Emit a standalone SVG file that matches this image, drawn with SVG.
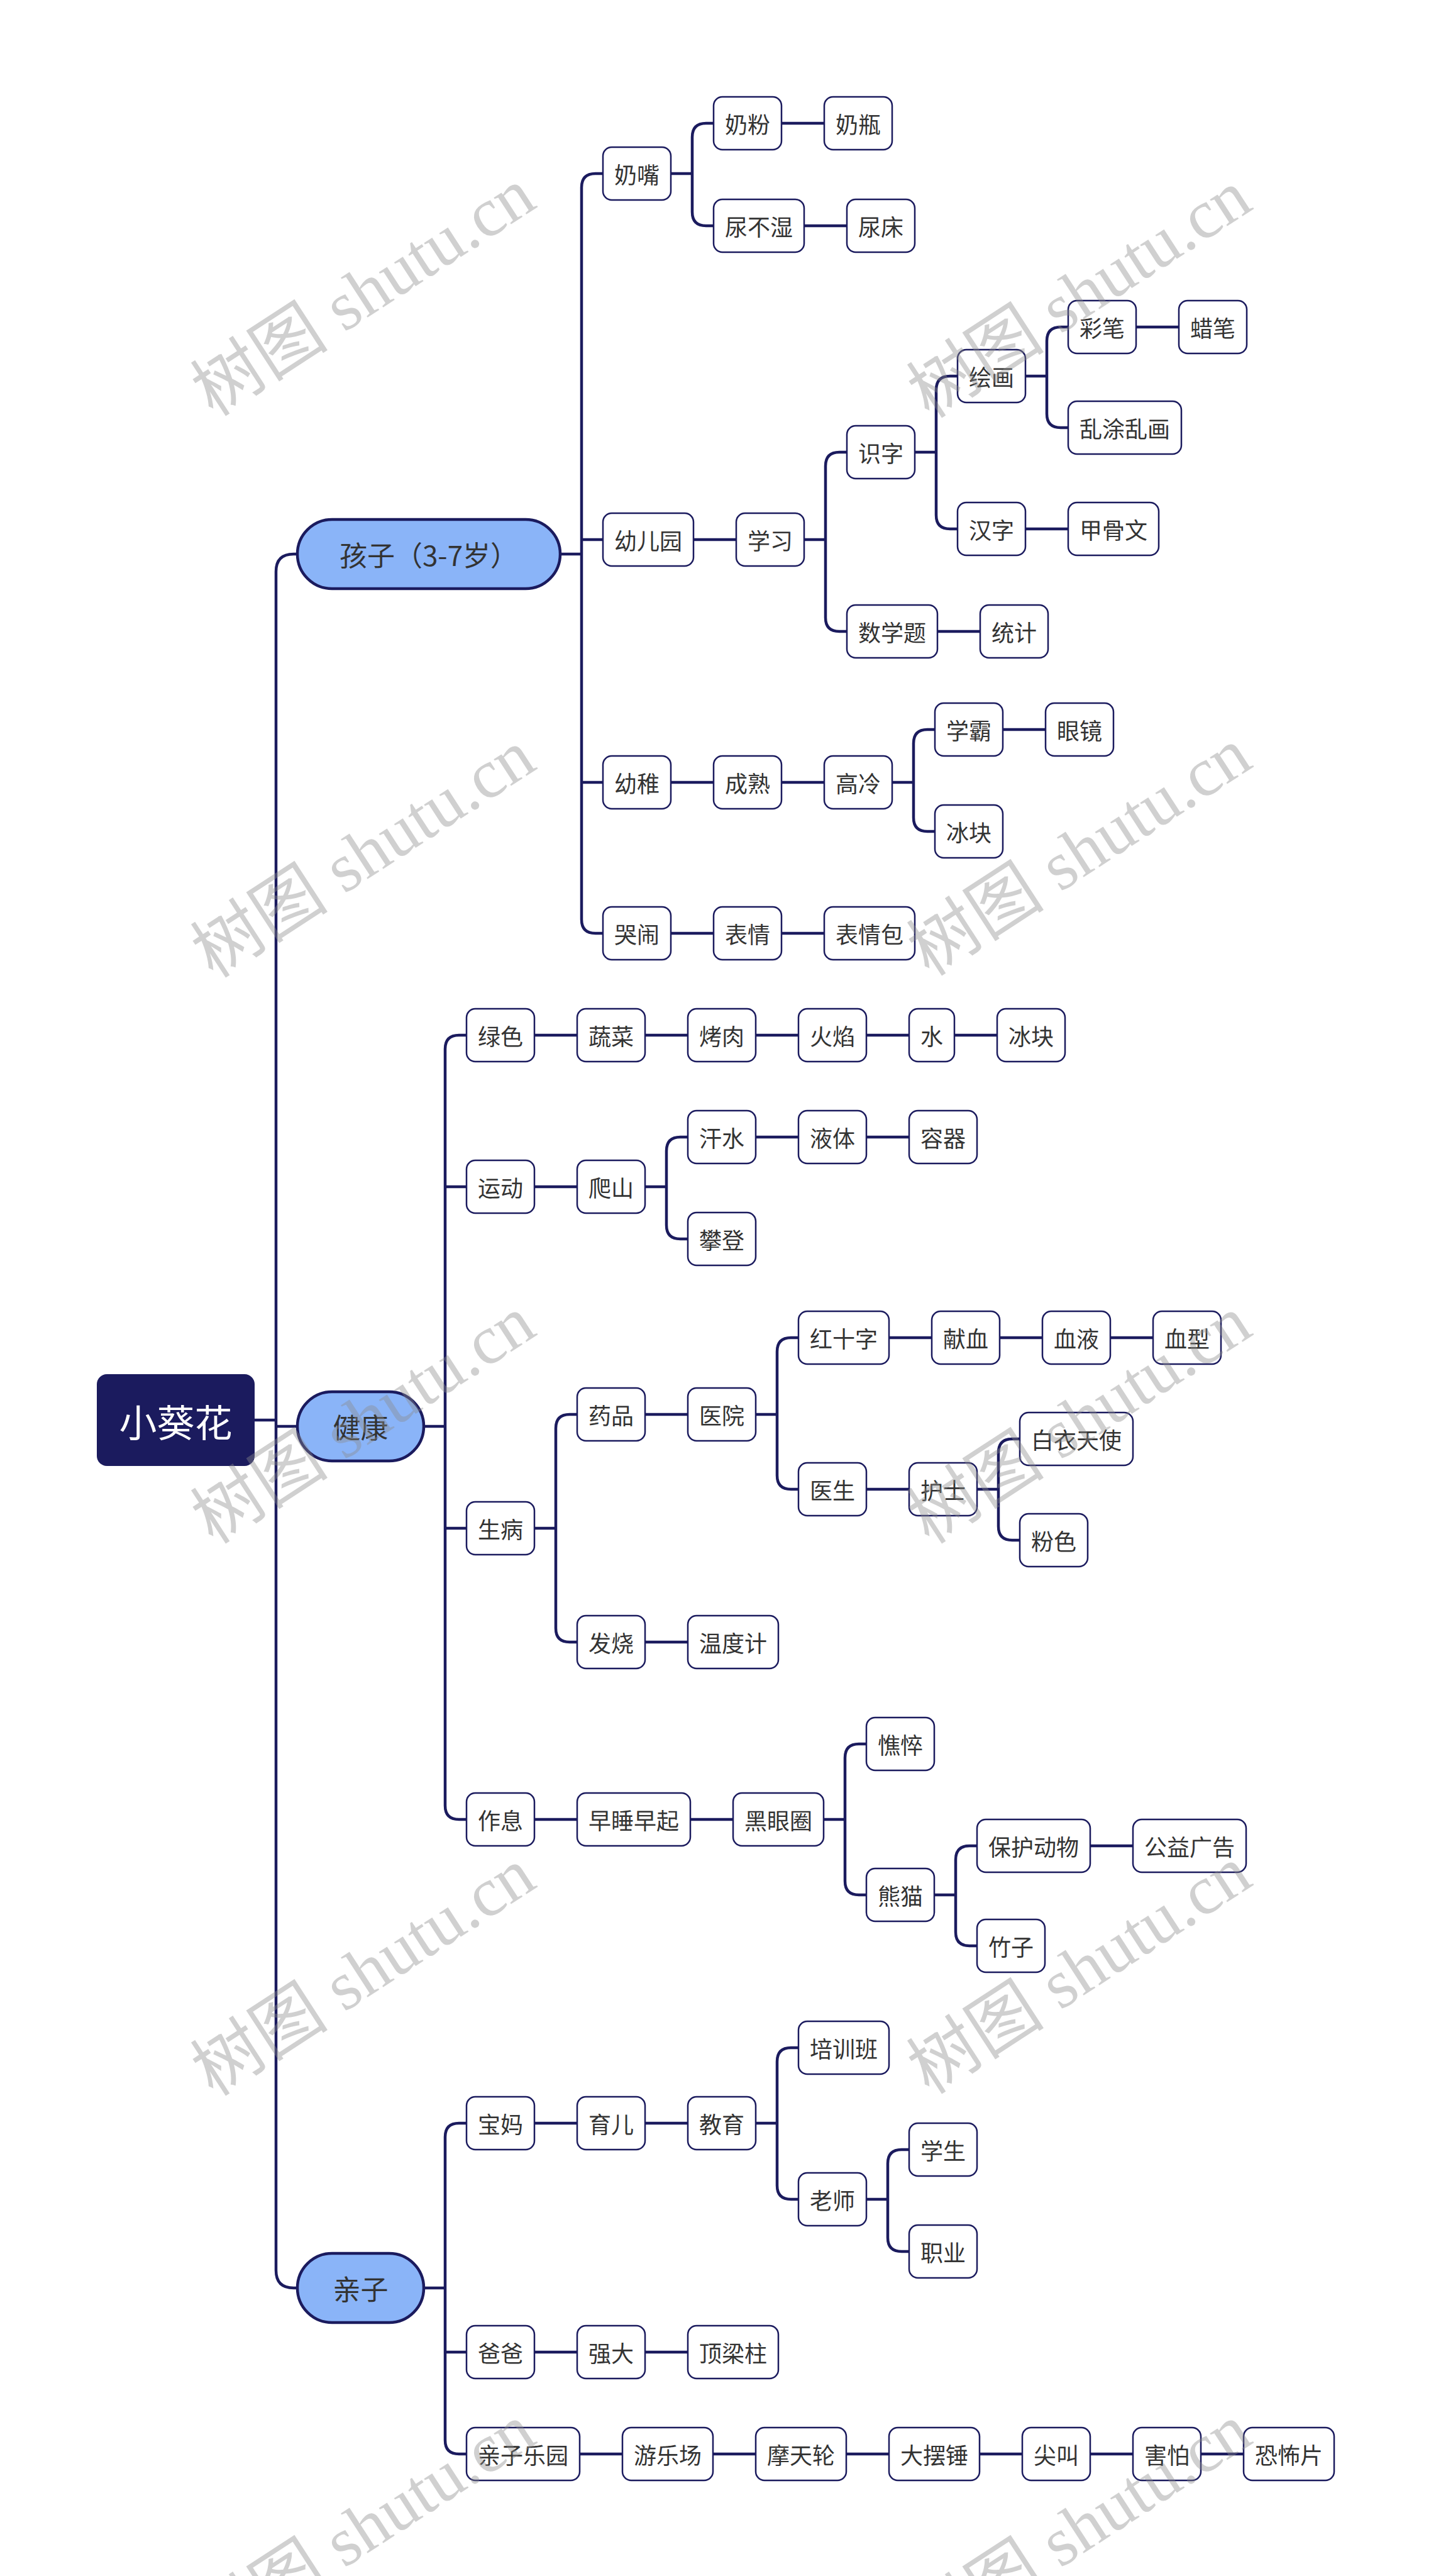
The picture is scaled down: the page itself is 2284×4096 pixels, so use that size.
<svg xmlns="http://www.w3.org/2000/svg" width="2284" height="4096" viewBox="0 0 2284 4096">
<style>
.n rect{fill:#ffffff;stroke:#1b1b5e;stroke-width:2.5}
.n text{font-family:"Noto Sans CJK SC","Noto Sans",sans-serif;font-size:36px;fill:#333333;text-anchor:middle;dominant-baseline:central}
.p rect{fill:#8ab4f8;stroke:#1b1b5e;stroke-width:4.5}
.p text{font-family:"Noto Sans CJK SC","Noto Sans",sans-serif;font-size:44px;fill:#333333;text-anchor:middle;dominant-baseline:central}
.r rect{fill:#1b1b5e;stroke:none}
.r text{font-family:"Noto Sans CJK SC","Noto Sans",sans-serif;font-size:60px;fill:#ffffff;text-anchor:middle;dominant-baseline:central}
.c path{fill:none;stroke:#1b1b5e;stroke-width:4.5}
.wm{font-family:"Liberation Serif","Noto Sans CJK SC",serif;font-size:110px;fill:#8c8c8c;opacity:0.4;text-anchor:middle;dominant-baseline:central}
</style>
<rect width="2284" height="4096" fill="#ffffff"/>
<g id="connectors" class="c">
<path d="M405 2258 H439"/>
<path d="M439 2268 H473"/>
<path d="M473 881 H467 Q439 881 439 909 V3610 Q439 3638 467 3638 H473"/>
<path d="M891 881 H925"/>
<path d="M959 276 H947 Q925 276 925 298 V1462 Q925 1484 947 1484 H959"/>
<path d="M925 858 H959"/>
<path d="M925 1244 H959"/>
<path d="M1067 276 H1101"/>
<path d="M1135 196 H1123 Q1101 196 1101 218 V337 Q1101 359 1123 359 H1135"/>
<path d="M1243 196 H1311"/>
<path d="M1279 359 H1347"/>
<path d="M1103 858 H1171"/>
<path d="M1279 858 H1313"/>
<path d="M1347 719 H1335 Q1313 719 1313 741 V982 Q1313 1004 1335 1004 H1347"/>
<path d="M1455 719 H1489"/>
<path d="M1523 598 H1511 Q1489 598 1489 620 V819 Q1489 841 1511 841 H1523"/>
<path d="M1631 598 H1665"/>
<path d="M1699 520 H1687 Q1665 520 1665 542 V658 Q1665 680 1687 680 H1699"/>
<path d="M1807 520 H1875"/>
<path d="M1631 841 H1699"/>
<path d="M1491 1004 H1559"/>
<path d="M1067 1244 H1135"/>
<path d="M1243 1244 H1311"/>
<path d="M1419 1244 H1453"/>
<path d="M1487 1160 H1475 Q1453 1160 1453 1182 V1300 Q1453 1322 1475 1322 H1487"/>
<path d="M1595 1160 H1663"/>
<path d="M1067 1484 H1135"/>
<path d="M1243 1484 H1311"/>
<path d="M674 2268 H708"/>
<path d="M742 1646 H730 Q708 1646 708 1668 V2871 Q708 2893 730 2893 H742"/>
<path d="M708 1887 H742"/>
<path d="M708 2430 H742"/>
<path d="M850 1646 H918"/>
<path d="M1026 1646 H1094"/>
<path d="M1202 1646 H1270"/>
<path d="M1378 1646 H1446"/>
<path d="M1518 1646 H1586"/>
<path d="M850 1887 H918"/>
<path d="M1026 1887 H1060"/>
<path d="M1094 1808 H1082 Q1060 1808 1060 1830 V1948 Q1060 1970 1082 1970 H1094"/>
<path d="M1202 1808 H1270"/>
<path d="M1378 1808 H1446"/>
<path d="M850 2430 H884"/>
<path d="M918 2249 H906 Q884 2249 884 2271 V2589 Q884 2611 906 2611 H918"/>
<path d="M1026 2249 H1094"/>
<path d="M1202 2249 H1236"/>
<path d="M1270 2127 H1258 Q1236 2127 1236 2149 V2346 Q1236 2368 1258 2368 H1270"/>
<path d="M1414 2127 H1482"/>
<path d="M1590 2127 H1658"/>
<path d="M1766 2127 H1834"/>
<path d="M1378 2368 H1446"/>
<path d="M1554 2368 H1588"/>
<path d="M1622 2288 H1610 Q1588 2288 1588 2310 V2427 Q1588 2449 1610 2449 H1622"/>
<path d="M1026 2611 H1094"/>
<path d="M850 2893 H918"/>
<path d="M1098 2893 H1166"/>
<path d="M1310 2893 H1344"/>
<path d="M1378 2773 H1366 Q1344 2773 1344 2795 V2991 Q1344 3013 1366 3013 H1378"/>
<path d="M1486 3013 H1520"/>
<path d="M1554 2935 H1542 Q1520 2935 1520 2957 V3072 Q1520 3094 1542 3094 H1554"/>
<path d="M1734 2935 H1802"/>
<path d="M674 3638 H708"/>
<path d="M742 3376 H730 Q708 3376 708 3398 V3880 Q708 3902 730 3902 H742"/>
<path d="M708 3740 H742"/>
<path d="M850 3376 H918"/>
<path d="M1026 3376 H1094"/>
<path d="M1202 3376 H1236"/>
<path d="M1270 3256 H1258 Q1236 3256 1236 3278 V3475 Q1236 3497 1258 3497 H1270"/>
<path d="M1378 3497 H1412"/>
<path d="M1446 3418 H1434 Q1412 3418 1412 3440 V3558 Q1412 3580 1434 3580 H1446"/>
<path d="M850 3740 H918"/>
<path d="M1026 3740 H1094"/>
<path d="M922 3902 H990"/>
<path d="M1134 3902 H1202"/>
<path d="M1346 3902 H1414"/>
<path d="M1558 3902 H1626"/>
<path d="M1734 3902 H1802"/>
<path d="M1910 3902 H1978"/>
</g>
<g id="root" class="r"><rect x="154" y="2185" width="251" height="146" rx="16"/><text x="279.5" y="2258">小葵花</text></g>
<g id="n-haizi" class="p"><rect x="473" y="826" width="418" height="110" rx="55"/><text x="682" y="881">孩子（3-7岁）</text></g>
<g id="n-jiankang" class="p"><rect x="473" y="2213" width="201" height="110" rx="55"/><text x="573.5" y="2268">健康</text></g>
<g id="n-qinzi" class="p"><rect x="473" y="3583" width="201" height="110" rx="55"/><text x="573.5" y="3638">亲子</text></g>
<g id="n-naizui" class="n"><rect x="959" y="234" width="108" height="84" rx="14"/><text x="1013" y="276">奶嘴</text></g>
<g id="n-naifen" class="n"><rect x="1135" y="154" width="108" height="84" rx="14"/><text x="1189" y="196">奶粉</text></g>
<g id="n-naiping" class="n"><rect x="1311" y="154" width="108" height="84" rx="14"/><text x="1365" y="196">奶瓶</text></g>
<g id="n-niaobushi" class="n"><rect x="1135" y="317" width="144" height="84" rx="14"/><text x="1207" y="359">尿不湿</text></g>
<g id="n-niaochuang" class="n"><rect x="1347" y="317" width="108" height="84" rx="14"/><text x="1401" y="359">尿床</text></g>
<g id="n-youeryuan" class="n"><rect x="959" y="816" width="144" height="84" rx="14"/><text x="1031" y="858">幼儿园</text></g>
<g id="n-xuexi" class="n"><rect x="1171" y="816" width="108" height="84" rx="14"/><text x="1225" y="858">学习</text></g>
<g id="n-shizi" class="n"><rect x="1347" y="677" width="108" height="84" rx="14"/><text x="1401" y="719">识字</text></g>
<g id="n-huihua" class="n"><rect x="1523" y="556" width="108" height="84" rx="14"/><text x="1577" y="598">绘画</text></g>
<g id="n-caibi" class="n"><rect x="1699" y="478" width="108" height="84" rx="14"/><text x="1753" y="520">彩笔</text></g>
<g id="n-labi" class="n"><rect x="1875" y="478" width="108" height="84" rx="14"/><text x="1929" y="520">蜡笔</text></g>
<g id="n-luantu" class="n"><rect x="1699" y="638" width="180" height="84" rx="14"/><text x="1789" y="680">乱涂乱画</text></g>
<g id="n-hanzi" class="n"><rect x="1523" y="799" width="108" height="84" rx="14"/><text x="1577" y="841">汉字</text></g>
<g id="n-jiaguwen" class="n"><rect x="1699" y="799" width="144" height="84" rx="14"/><text x="1771" y="841">甲骨文</text></g>
<g id="n-shuxueti" class="n"><rect x="1347" y="962" width="144" height="84" rx="14"/><text x="1419" y="1004">数学题</text></g>
<g id="n-tongji" class="n"><rect x="1559" y="962" width="108" height="84" rx="14"/><text x="1613" y="1004">统计</text></g>
<g id="n-youzhi" class="n"><rect x="959" y="1202" width="108" height="84" rx="14"/><text x="1013" y="1244">幼稚</text></g>
<g id="n-chengshu" class="n"><rect x="1135" y="1202" width="108" height="84" rx="14"/><text x="1189" y="1244">成熟</text></g>
<g id="n-gaoleng" class="n"><rect x="1311" y="1202" width="108" height="84" rx="14"/><text x="1365" y="1244">高冷</text></g>
<g id="n-xueba" class="n"><rect x="1487" y="1118" width="108" height="84" rx="14"/><text x="1541" y="1160">学霸</text></g>
<g id="n-yanjing" class="n"><rect x="1663" y="1118" width="108" height="84" rx="14"/><text x="1717" y="1160">眼镜</text></g>
<g id="n-bingkuai1" class="n"><rect x="1487" y="1280" width="108" height="84" rx="14"/><text x="1541" y="1322">冰块</text></g>
<g id="n-kunao" class="n"><rect x="959" y="1442" width="108" height="84" rx="14"/><text x="1013" y="1484">哭闹</text></g>
<g id="n-biaoqing" class="n"><rect x="1135" y="1442" width="108" height="84" rx="14"/><text x="1189" y="1484">表情</text></g>
<g id="n-biaoqingbao" class="n"><rect x="1311" y="1442" width="144" height="84" rx="14"/><text x="1383" y="1484">表情包</text></g>
<g id="n-lvse" class="n"><rect x="742" y="1604" width="108" height="84" rx="14"/><text x="796" y="1646">绿色</text></g>
<g id="n-shucai" class="n"><rect x="918" y="1604" width="108" height="84" rx="14"/><text x="972" y="1646">蔬菜</text></g>
<g id="n-kaorou" class="n"><rect x="1094" y="1604" width="108" height="84" rx="14"/><text x="1148" y="1646">烤肉</text></g>
<g id="n-huoyan" class="n"><rect x="1270" y="1604" width="108" height="84" rx="14"/><text x="1324" y="1646">火焰</text></g>
<g id="n-shui" class="n"><rect x="1446" y="1604" width="72" height="84" rx="14"/><text x="1482" y="1646">水</text></g>
<g id="n-bingkuai2" class="n"><rect x="1586" y="1604" width="108" height="84" rx="14"/><text x="1640" y="1646">冰块</text></g>
<g id="n-yundong" class="n"><rect x="742" y="1845" width="108" height="84" rx="14"/><text x="796" y="1887">运动</text></g>
<g id="n-pashan" class="n"><rect x="918" y="1845" width="108" height="84" rx="14"/><text x="972" y="1887">爬山</text></g>
<g id="n-hanshui" class="n"><rect x="1094" y="1766" width="108" height="84" rx="14"/><text x="1148" y="1808">汗水</text></g>
<g id="n-yeti" class="n"><rect x="1270" y="1766" width="108" height="84" rx="14"/><text x="1324" y="1808">液体</text></g>
<g id="n-rongqi" class="n"><rect x="1446" y="1766" width="108" height="84" rx="14"/><text x="1500" y="1808">容器</text></g>
<g id="n-pandeng" class="n"><rect x="1094" y="1928" width="108" height="84" rx="14"/><text x="1148" y="1970">攀登</text></g>
<g id="n-shengbing" class="n"><rect x="742" y="2388" width="108" height="84" rx="14"/><text x="796" y="2430">生病</text></g>
<g id="n-yaopin" class="n"><rect x="918" y="2207" width="108" height="84" rx="14"/><text x="972" y="2249">药品</text></g>
<g id="n-yiyuan" class="n"><rect x="1094" y="2207" width="108" height="84" rx="14"/><text x="1148" y="2249">医院</text></g>
<g id="n-hongshizi" class="n"><rect x="1270" y="2085" width="144" height="84" rx="14"/><text x="1342" y="2127">红十字</text></g>
<g id="n-xianxue" class="n"><rect x="1482" y="2085" width="108" height="84" rx="14"/><text x="1536" y="2127">献血</text></g>
<g id="n-xueye" class="n"><rect x="1658" y="2085" width="108" height="84" rx="14"/><text x="1712" y="2127">血液</text></g>
<g id="n-xuexing" class="n"><rect x="1834" y="2085" width="108" height="84" rx="14"/><text x="1888" y="2127">血型</text></g>
<g id="n-yisheng" class="n"><rect x="1270" y="2326" width="108" height="84" rx="14"/><text x="1324" y="2368">医生</text></g>
<g id="n-hushi" class="n"><rect x="1446" y="2326" width="108" height="84" rx="14"/><text x="1500" y="2368">护士</text></g>
<g id="n-baiyi" class="n"><rect x="1622" y="2246" width="180" height="84" rx="14"/><text x="1712" y="2288">白衣天使</text></g>
<g id="n-fense" class="n"><rect x="1622" y="2407" width="108" height="84" rx="14"/><text x="1676" y="2449">粉色</text></g>
<g id="n-fashao" class="n"><rect x="918" y="2569" width="108" height="84" rx="14"/><text x="972" y="2611">发烧</text></g>
<g id="n-wenduji" class="n"><rect x="1094" y="2569" width="144" height="84" rx="14"/><text x="1166" y="2611">温度计</text></g>
<g id="n-zuoxi" class="n"><rect x="742" y="2851" width="108" height="84" rx="14"/><text x="796" y="2893">作息</text></g>
<g id="n-zaoshui" class="n"><rect x="918" y="2851" width="180" height="84" rx="14"/><text x="1008" y="2893">早睡早起</text></g>
<g id="n-heiyanquan" class="n"><rect x="1166" y="2851" width="144" height="84" rx="14"/><text x="1238" y="2893">黑眼圈</text></g>
<g id="n-qiaocui" class="n"><rect x="1378" y="2731" width="108" height="84" rx="14"/><text x="1432" y="2773">憔悴</text></g>
<g id="n-xiongmao" class="n"><rect x="1378" y="2971" width="108" height="84" rx="14"/><text x="1432" y="3013">熊猫</text></g>
<g id="n-baohu" class="n"><rect x="1554" y="2893" width="180" height="84" rx="14"/><text x="1644" y="2935">保护动物</text></g>
<g id="n-gongyi" class="n"><rect x="1802" y="2893" width="180" height="84" rx="14"/><text x="1892" y="2935">公益广告</text></g>
<g id="n-zhuzi" class="n"><rect x="1554" y="3052" width="108" height="84" rx="14"/><text x="1608" y="3094">竹子</text></g>
<g id="n-baoma" class="n"><rect x="742" y="3334" width="108" height="84" rx="14"/><text x="796" y="3376">宝妈</text></g>
<g id="n-yuer" class="n"><rect x="918" y="3334" width="108" height="84" rx="14"/><text x="972" y="3376">育儿</text></g>
<g id="n-jiaoyu" class="n"><rect x="1094" y="3334" width="108" height="84" rx="14"/><text x="1148" y="3376">教育</text></g>
<g id="n-peixunban" class="n"><rect x="1270" y="3214" width="144" height="84" rx="14"/><text x="1342" y="3256">培训班</text></g>
<g id="n-laoshi" class="n"><rect x="1270" y="3455" width="108" height="84" rx="14"/><text x="1324" y="3497">老师</text></g>
<g id="n-xuesheng" class="n"><rect x="1446" y="3376" width="108" height="84" rx="14"/><text x="1500" y="3418">学生</text></g>
<g id="n-zhiye" class="n"><rect x="1446" y="3538" width="108" height="84" rx="14"/><text x="1500" y="3580">职业</text></g>
<g id="n-baba" class="n"><rect x="742" y="3698" width="108" height="84" rx="14"/><text x="796" y="3740">爸爸</text></g>
<g id="n-qiangda" class="n"><rect x="918" y="3698" width="108" height="84" rx="14"/><text x="972" y="3740">强大</text></g>
<g id="n-dingliangzhu" class="n"><rect x="1094" y="3698" width="144" height="84" rx="14"/><text x="1166" y="3740">顶梁柱</text></g>
<g id="n-qinziley" class="n"><rect x="742" y="3860" width="180" height="84" rx="14"/><text x="832" y="3902">亲子乐园</text></g>
<g id="n-youlechang" class="n"><rect x="990" y="3860" width="144" height="84" rx="14"/><text x="1062" y="3902">游乐场</text></g>
<g id="n-motianlun" class="n"><rect x="1202" y="3860" width="144" height="84" rx="14"/><text x="1274" y="3902">摩天轮</text></g>
<g id="n-dabaichui" class="n"><rect x="1414" y="3860" width="144" height="84" rx="14"/><text x="1486" y="3902">大摆锤</text></g>
<g id="n-jianjiao" class="n"><rect x="1626" y="3860" width="108" height="84" rx="14"/><text x="1680" y="3902">尖叫</text></g>
<g id="n-haipa" class="n"><rect x="1802" y="3860" width="108" height="84" rx="14"/><text x="1856" y="3902">害怕</text></g>
<g id="n-kongbupian" class="n"><rect x="1978" y="3860" width="144" height="84" rx="14"/><text x="2050" y="3902">恐怖片</text></g>
<g id="watermarks">
<text class="wm" x="578" y="465" transform="rotate(-33 578 465)">树图 shutu.cn</text>
<text class="wm" x="1717" y="468" transform="rotate(-33 1717 468)">树图 shutu.cn</text>
<text class="wm" x="578" y="1358" transform="rotate(-33 578 1358)">树图 shutu.cn</text>
<text class="wm" x="1717" y="1355" transform="rotate(-33 1717 1355)">树图 shutu.cn</text>
<text class="wm" x="578" y="2258" transform="rotate(-33 578 2258)">树图 shutu.cn</text>
<text class="wm" x="1717" y="2258" transform="rotate(-33 1717 2258)">树图 shutu.cn</text>
<text class="wm" x="578" y="3136" transform="rotate(-33 578 3136)">树图 shutu.cn</text>
<text class="wm" x="1717" y="3133" transform="rotate(-33 1717 3133)">树图 shutu.cn</text>
<text class="wm" x="578" y="4020" transform="rotate(-33 578 4020)">树图 shutu.cn</text>
<text class="wm" x="1717" y="4020" transform="rotate(-33 1717 4020)">树图 shutu.cn</text>
</g>
</svg>
